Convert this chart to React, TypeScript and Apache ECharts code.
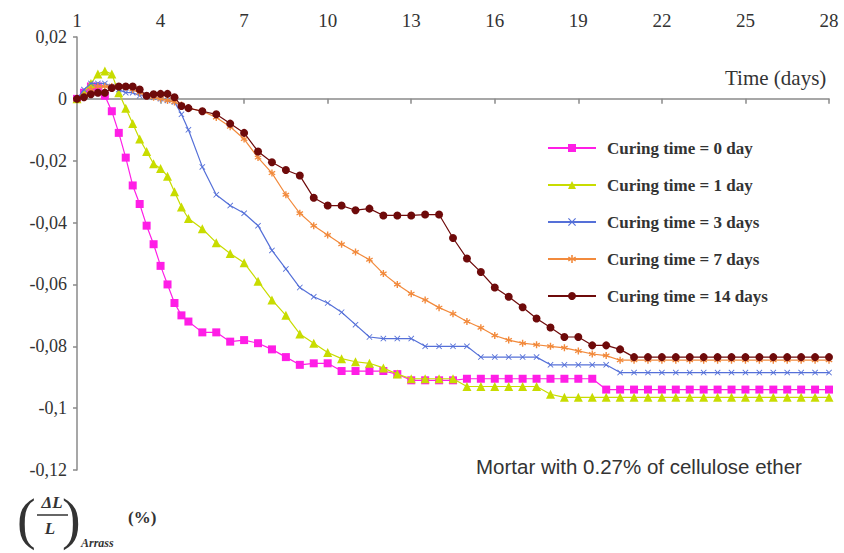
import React, { useEffect, useRef } from "react";
import * as echarts from "echarts";

const days = [
  1, 1.25, 1.5, 1.75, 2, 2.25, 2.5, 2.75, 3, 3.25, 3.5, 3.75, 4, 4.25, 4.5, 4.75, 5,
  5.5, 6, 6.5, 7, 7.5, 8, 8.5, 9, 9.5, 10, 10.5, 11, 11.5, 12, 12.5, 13, 13.5, 14, 14.5,
  15, 15.5, 16, 16.5, 17, 17.5, 18, 18.5, 19, 19.5, 20, 20.5, 21, 21.5, 22, 22.5, 23, 23.5,
  24, 24.5, 25, 25.5, 26, 26.5, 27, 27.5, 28,
];

const curing0 = [
  0, 0.002, 0.004, 0.004, 0.001, -0.004, -0.011, -0.019, -0.028, -0.034, -0.041, -0.047, -0.054, -0.06, -0.066, -0.07, -0.072,
  -0.0755, -0.0755, -0.0785, -0.078, -0.079, -0.081, -0.0835, -0.086, -0.0855, -0.0855, -0.088, -0.088, -0.088, -0.088, -0.089, -0.091, -0.091, -0.091, -0.091,
  -0.0905, -0.0905, -0.0905, -0.0905, -0.0905, -0.0905, -0.0905, -0.0905, -0.0905, -0.0905, -0.094, -0.094, -0.094, -0.094, -0.094, -0.094, -0.094, -0.094,
  -0.094, -0.094, -0.094, -0.094, -0.094, -0.094, -0.094, -0.094, -0.094,
];

const curing1 = [
  0, 0.002, 0.005, 0.008, 0.009, 0.008, 0.002, -0.003, -0.008, -0.013, -0.017, -0.021, -0.0225, -0.025, -0.03, -0.035, -0.0387,
  -0.042, -0.0465, -0.05, -0.053, -0.059, -0.065, -0.07, -0.076, -0.079, -0.082, -0.084, -0.085, -0.0855, -0.087, -0.089, -0.0905, -0.0905, -0.0905, -0.0905,
  -0.093, -0.093, -0.093, -0.093, -0.093, -0.093, -0.0955, -0.0965, -0.0965, -0.0965, -0.0965, -0.0965, -0.0965, -0.0965, -0.0965, -0.0965, -0.0965, -0.0965,
  -0.0965, -0.0965, -0.0965, -0.0965, -0.0965, -0.0965, -0.0965, -0.0965, -0.0965,
];

const curing3 = [
  0, 0.003, 0.005, 0.005, 0.005, 0.004, 0.003, 0.002, 0.002, 0.001, 0.001, 0.0005, 0, -0.0005, -0.001, -0.005, -0.01,
  -0.022, -0.031, -0.0345, -0.037, -0.041, -0.049, -0.055, -0.061, -0.064, -0.066, -0.069, -0.073, -0.077, -0.0775, -0.0775, -0.0775, -0.08, -0.08, -0.08,
  -0.08, -0.0835, -0.0835, -0.0835, -0.0835, -0.0835, -0.086, -0.086, -0.086, -0.086, -0.086, -0.0885, -0.0885, -0.0885, -0.0885, -0.0885, -0.0885, -0.0885,
  -0.0885, -0.0885, -0.0885, -0.0885, -0.0885, -0.0885, -0.0885, -0.0885, -0.0885,
];

const curing7 = [
  0, 0.001, 0.003, 0.004, 0.004, 0.004, 0.004, 0.004, 0.003, 0.002, 0.001, 0.0005, 0, -0.0005, -0.001, -0.002, -0.003,
  -0.004, -0.006, -0.009, -0.013, -0.019, -0.024, -0.031, -0.037, -0.041, -0.044, -0.047, -0.0495, -0.052, -0.0565, -0.06, -0.063, -0.065, -0.0675, -0.0695,
  -0.072, -0.074, -0.0765, -0.078, -0.079, -0.0795, -0.08, -0.0805, -0.0815, -0.0825, -0.083, -0.0845, -0.0845, -0.0845, -0.0845, -0.0845, -0.0845, -0.0845,
  -0.0845, -0.0845, -0.0845, -0.0845, -0.0845, -0.0845, -0.0845, -0.0845, -0.0845,
];

const curing14 = [
  0, 0.0005, 0.0015, 0.002, 0.002, 0.0035, 0.004, 0.004, 0.004, 0.003, 0.001, 0.0015, 0.0016, 0.0016, 0.0005, -0.0023, -0.003,
  -0.004, -0.005, -0.008, -0.011, -0.017, -0.0205, -0.023, -0.0248, -0.032, -0.0345, -0.0345, -0.036, -0.0355, -0.0377, -0.0377, -0.0377, -0.0374, -0.0374, -0.045,
  -0.0516, -0.056, -0.061, -0.064, -0.0674, -0.071, -0.0739, -0.077, -0.077, -0.0797, -0.0797, -0.081, -0.0835, -0.0835, -0.0835, -0.0835, -0.0835, -0.0835,
  -0.0835, -0.0835, -0.0835, -0.0835, -0.0835, -0.0835, -0.0835, -0.0835, -0.0835,
];

const seriesNames = [
  "Curing time = 0 day",
  "Curing time = 1 day",
  "Curing time = 3 days",
  "Curing time = 7 days",
  "Curing time = 14 days",
];

const xTicks = { min: 1, max: 28, interval: 3 };
const yTicks = { min: -0.12, max: 0.02, interval: 0.02 };

const crossPath =
  "path://M0,1 L1,0 L5,4 L9,0 L10,1 L6,5 L10,9 L9,10 L5,6 L1,10 L0,9 L4,5 Z";
const starPath =
  "path://M4,0 L6,0 L6,3.6 L9.2,1.8 L10,3.5 L7,5 L10,6.5 L9.2,8.2 L6,6.4 L6,10 L4,10 L4,6.4 L0.8,8.2 L0,6.5 L3,5 L0,3.5 L0.8,1.8 L4,3.6 Z";

const SERIF = "'Liberation Serif', 'DejaVu Serif', serif";

export default function App() {
  const ref = useRef<HTMLDivElement>(null);

  useEffect(() => {
    if (!ref.current) return;
    const chart = echarts.init(ref.current, undefined, { renderer: "svg" });
    const mk = (arr: number[]) => days.map((d, i) => [d, arr[i]]);
    const styles = [
      { data: curing0, color: "#ff1ee6", symbol: "rect", size: 8 },
      { data: curing1, color: "#c8dc00", symbol: "triangle", size: 9 },
      { data: curing3, color: "#5570d8", symbol: crossPath, size: 6 },
      { data: curing7, color: "#f28a3c", symbol: starPath, size: 7 },
      { data: curing14, color: "#6e0a0a", symbol: "circle", size: 8 },
    ];
    chart.setOption({
      animation: false,
      backgroundColor: "#ffffff",
      grid: { left: 77, right: 15, top: 37, bottom: 83, containLabel: false },
      xAxis: {
        type: "value",
        position: "top",
        min: xTicks.min,
        max: xTicks.max,
        interval: xTicks.interval,
        axisLine: { show: true, lineStyle: { color: "#8a8a8a", width: 1.5 } },
        axisTick: { show: true, inside: true, length: 5, lineStyle: { color: "#8a8a8a", width: 1.5 } },
        axisLabel: { color: "#333", fontFamily: SERIF, fontSize: 19, margin: 7, showMaxLabel: true },
        splitLine: { show: false },
      },
      yAxis: {
        type: "value",
        min: yTicks.min,
        max: yTicks.max,
        interval: yTicks.interval,
        axisLine: { show: true, lineStyle: { color: "#8a8a8a", width: 1.5 } },
        axisTick: { show: true, inside: false, length: 4, lineStyle: { color: "#8a8a8a", width: 1.5 } },
        axisLabel: {
          color: "#333",
          fontFamily: SERIF,
          fontSize: 18,
          margin: 10,
          formatter: (v: number) => String(Number(v.toFixed(2))).replace(".", ","),
        },
        splitLine: { show: false },
      },
      legend: {
        orient: "vertical",
        left: 542,
        top: 134,
        itemWidth: 48,
        itemHeight: 10,
        itemGap: 19,
        data: seriesNames,
        textStyle: {
          fontFamily: SERIF,
          fontSize: 17,
          fontWeight: "bold",
          color: "#333",
          lineHeight: 18,
          padding: [0, 0, 0, 6],
        },
      },
      series: styles.map((s, i) => ({
        name: seriesNames[i],
        type: "line",
        data: mk(s.data),
        symbol: s.symbol,
        symbolSize: s.size,
        showSymbol: true,
        lineStyle: { color: s.color, width: 1.2 },
        itemStyle: { color: s.color },
        z: 2 + i,
      })),
      graphic: [
        {
          type: "text",
          left: 725,
          top: 67,
          style: { text: "Time (days)", font: `21px ${SERIF}`, fill: "#333" },
        },
        {
          type: "text",
          left: 476,
          top: 456,
          style: {
            text: "Mortar with 0.27% of cellulose ether",
            font: `20.5px 'Liberation Sans', Arial, sans-serif`,
            fill: "#333",
          },
        },
        {
          type: "text",
          x: 17,
          y: 519,
          style: { text: "(", font: `56px ${SERIF}`, fill: "#333", verticalAlign: "middle" },
        },
        {
          type: "text",
          x: 52,
          y: 502,
          style: { text: "ΔL", font: `italic bold 17px ${SERIF}`, fill: "#333", align: "center", verticalAlign: "middle" },
        },
        {
          type: "line",
          shape: { x1: 37, y1: 515, x2: 68, y2: 515 },
          style: { stroke: "#333", lineWidth: 1.5 },
        },
        {
          type: "text",
          x: 50,
          y: 528,
          style: { text: "L", font: `italic bold 17px ${SERIF}`, fill: "#333", align: "center", verticalAlign: "middle" },
        },
        {
          type: "text",
          x: 62,
          y: 519,
          style: { text: ")", font: `56px ${SERIF}`, fill: "#333", verticalAlign: "middle" },
        },
        {
          type: "text",
          x: 81,
          y: 543,
          style: { text: "Arrass", font: `italic bold 12px ${SERIF}`, fill: "#333", verticalAlign: "middle" },
        },
        {
          type: "text",
          x: 128,
          y: 517,
          style: { text: "(%)", font: `bold 17px ${SERIF}`, fill: "#333", verticalAlign: "middle" },
        },
      ],
    });
    return () => chart.dispose();
  }, []);

  return (
    <div
      ref={ref}
      style={{ position: "absolute", left: 0, top: 0, width: 844, height: 553 }}
    />
  );
}
